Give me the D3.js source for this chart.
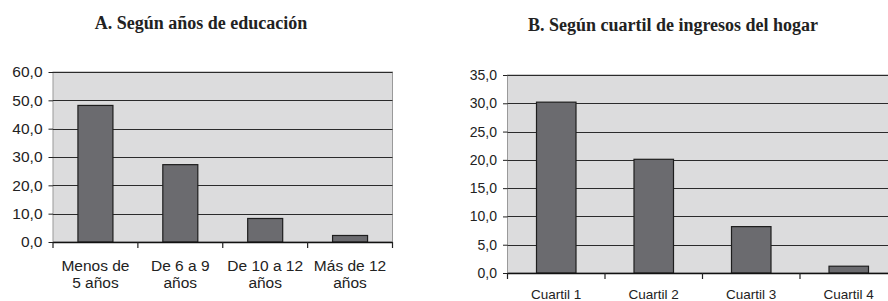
<!DOCTYPE html>
<html>
<head>
<meta charset="utf-8">
<script src="https://cdn.jsdelivr.net/npm/d3@7"></script>
<style>
  html, body { margin: 0; padding: 0; background: #fff; }
  svg { display: block; }
</style>
</head>
<body>
<svg id="chart" width="888" height="301"></svg>
<script>
"use strict";

// datos
var categoriasA = [["Menos de", "5 años"], ["De 6 a 9", "años"], ["De 10 a 12", "años"], ["Más de 12", "años"]];
var valoresA = [48.2, 27.3, 8.3, 2.3];
var ticksA = [0, 10, 20, 30, 40, 50, 60];

var categoriasB = ["Cuartil 1", "Cuartil 2", "Cuartil 3", "Cuartil 4"];
var valoresB = [30.2, 20.1, 8.2, 1.2];
var ticksB = [0, 5, 10, 15, 20, 25, 30, 35];

var locale = d3.formatLocale({ decimal: ",", thousands: ".", grouping: [3], currency: ["", ""] });
var fmt = locale.format(".1f");

var svg = d3.select("#chart");

function panel(opt) {
    var g = svg.append("g");

    var x = d3.scaleBand()
        .domain(d3.range(opt.values.length))
        .range([opt.left, opt.right]);
    var y = d3.scaleLinear()
        .domain(opt.domain)
        .range([opt.bottom, opt.top]);

    // fondo del área de trazado
    g.append("rect")
        .attr("x", opt.left)
        .attr("y", opt.top)
        .attr("width", opt.right - opt.left)
        .attr("height", opt.bottom - opt.top)
        .attr("fill", "#dcdcdd")
        .attr("stroke", "#9a9a9a")
        .attr("stroke-width", 1);

    // líneas de división
    g.selectAll("line.grid")
        .data(opt.ticks.filter(function(d) { return d > 0; }))
        .enter().append("line")
        .attr("class", "grid")
        .attr("x1", opt.left)
        .attr("x2", opt.right)
        .attr("y1", function(d) { return Math.round(y(d)) + 0.5; })
        .attr("y2", function(d) { return Math.round(y(d)) + 0.5; })
        .attr("stroke", "#2b2b2b")
        .attr("stroke-width", 1.2);

    // barras
    g.selectAll("rect.bar")
        .data(opt.values)
        .enter().append("rect")
        .attr("class", "bar")
        .attr("x", function(d, i) { return x(i) + x.bandwidth() / 2 - opt.barW / 2; })
        .attr("y", function(d) { return y(d); })
        .attr("width", opt.barW)
        .attr("height", function(d) { return y(0) - y(d); })
        .attr("fill", "#6b6b6f")
        .attr("stroke", "#1e1e1e")
        .attr("stroke-width", 1.2);

    // eje Y
    var yAxis = g.append("g")
        .attr("transform", "translate(" + opt.left + ",0)")
        .call(d3.axisLeft(y).tickValues(opt.ticks).tickFormat(fmt).tickSize(4.5).tickPadding(6));
    yAxis.select(".domain").remove();
    yAxis.selectAll(".tick line").attr("stroke", "#222");
    yAxis.selectAll("text")
        .attr("fill", "#222")
        .style("font-family", "'Liberation Sans', Arial, sans-serif")
        .style("font-size", opt.yFont + "px");

    // eje X
    var xAxis = g.append("g")
        .attr("transform", "translate(0," + opt.bottom + ")");
    xAxis.append("line")
        .attr("x1", opt.left).attr("x2", opt.right)
        .attr("y1", 0.5).attr("y2", 0.5)
        .attr("stroke", "#111").attr("stroke-width", 1.4);
    var bordes = d3.range(opt.values.length + 1).map(function(i) {
        return i < opt.values.length ? x(i) : opt.right;
    });
    xAxis.selectAll("line.tick")
        .data(bordes)
        .enter().append("line")
        .attr("class", "tick")
        .attr("x1", function(d) { return d; })
        .attr("x2", function(d) { return d; })
        .attr("y1", 0).attr("y2", 6)
        .attr("stroke", "#222").attr("stroke-width", 1.2);

    var labels = xAxis.selectAll("text")
        .data(opt.cats)
        .enter().append("text")
        .attr("x", function(d, i) { return x(i) + x.bandwidth() / 2; })
        .attr("y", opt.labelY)
        .attr("text-anchor", "middle")
        .attr("fill", "#222")
        .style("font-family", "'Liberation Sans', Arial, sans-serif")
        .style("font-size", opt.xFont + "px");
    labels.each(function(d) {
        var lines = Array.isArray(d) ? d : [d];
        var t = d3.select(this);
        lines.forEach(function(l, k) {
            t.append("tspan")
                .attr("x", t.attr("x"))
                .attr("dy", k === 0 ? 0 : opt.lineH)
                .text(l);
        });
    });

    // título
    svg.append("text")
        .attr("x", opt.titleX)
        .attr("y", opt.titleY)
        .attr("text-anchor", "middle")
        .attr("fill", "#222")
        .style("font-family", "'Liberation Serif', 'DejaVu Serif', serif")
        .style("font-weight", "bold")
        .style("font-size", "18px")
        .text(opt.title);
}

panel({
    title: "A. Según años de educación",
    titleX: 201, titleY: 29,
    cats: categoriasA, values: valoresA, ticks: ticksA, domain: [0, 60],
    left: 53, right: 392.5, top: 72, bottom: 242,
    barW: 35, yFont: 15.5, xFont: 15.5, labelY: 28.5, lineH: 17.5
});

panel({
    title: "B. Según cuartil de ingresos del hogar",
    titleX: 673, titleY: 31,
    cats: categoriasB, values: valoresB, ticks: ticksB, domain: [0, 35],
    left: 507.5, right: 897.5, top: 75, bottom: 273,
    barW: 39.5, yFont: 14, xFont: 13.5, labelY: 26, lineH: 14
});
</script>
</body>
</html>
